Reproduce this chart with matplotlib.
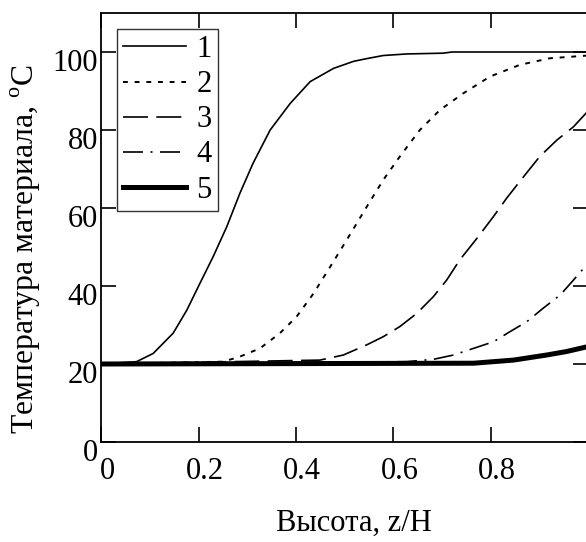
import matplotlib
matplotlib.use("Agg")
import matplotlib.pyplot as plt
import matplotlib.transforms as mtransforms

plt.rcParams['font.family'] = ['Liberation Serif', 'DejaVu Serif']
plt.rcParams['mathtext.fontset'] = 'custom'
plt.rcParams['mathtext.rm'] = 'Liberation Serif'

# Curve 1
x1 = [0.0, 0.073, 0.107, 0.148, 0.176, 0.203, 0.230, 0.258, 0.285, 0.312, 0.347, 0.388, 0.429,
      0.477, 0.518, 0.545, 0.579, 0.627, 0.702, 0.72, 1.0]
y1 = [20, 20.6, 22.7, 27.9, 33.8, 40.7, 47.5, 55.2, 63.8, 71.5, 80.0, 86.8, 92.4,
      95.8, 97.6, 98.3, 99.1, 99.5, 99.7, 100, 100]
# Curve 2
x2 = [0.0, 0.251, 0.285, 0.326, 0.367, 0.401, 0.436, 0.470, 0.504, 0.545, 0.579, 0.613, 0.654,
      0.695, 0.743, 0.798, 0.859, 0.921, 1.0]
y2 = [20, 20.6, 21.9, 24.0, 27.9, 32.1, 38.1, 44.9, 51.8, 60.3, 67.2, 73.2, 80.0,
      85.1, 89.4, 93.7, 96.7, 98.4, 99.1]
# Curve 3
x3 = [0.0, 0.449, 0.497, 0.545, 0.579, 0.613, 0.648, 0.682, 0.709, 0.736, 0.771, 0.805, 0.832,
      0.859, 0.900, 0.935, 0.969, 1.0]
y3 = [20, 21.0, 22.3, 24.9, 27.0, 29.6, 33.0, 37.3, 41.5, 46.7, 52.2, 57.8, 62.5,
      66.8, 73.2, 77.4, 80.8, 85.0]
# Curve 4
x4 = [0.0, 0.627, 0.682, 0.723, 0.764, 0.805, 0.839, 0.873, 0.907, 0.942, 0.969, 1.0]
y4 = [20, 20.6, 21.2, 22.3, 24.0, 25.7, 28.3, 30.8, 34.3, 37.7, 41.5, 46.0]
# Curve 5
x5 = [0.0, 0.764, 0.846, 0.914, 0.955, 1.0]
y5 = [20, 20.2, 21.0, 22.3, 23.2, 24.5]

labels = ['1', '2', '3', '4', '5']
xticks = [0, 0.2, 0.4, 0.6, 0.8]
xticklabels = ['0', '0.2', '0.4', '0.6', '0.8']
yticks = [0, 20, 40, 60, 80, 100]
yticklabels = ['0', '20', '40', '60', '80', '100']

fig = plt.figure(figsize=(5.86, 5.42), dpi=100)
W, H = 586, 542
left, right, bottom, top = 101, 588.5, 442, 13
ax = fig.add_axes([left / W, 1 - bottom / H, (right - left) / W, (bottom - top) / H])

lw = 1.2
ax.plot(x1, y1, color='black', lw=lw, label=labels[0])
ax.plot(x2, y2, color='black', lw=1.4, linestyle=(0, (2.5, 3.5)), label=labels[1])
ax.plot(x3, y3, color='black', lw=lw, linestyle=(0, (15, 5)), label=labels[2])
ax.plot(x4, y4, color='black', lw=lw, linestyle=(0, (12, 4.5, 1.2, 4.5)), label=labels[3])
ax.plot(x5, y5, color='black', lw=3.6, label=labels[4])

ax.set_xlim(0, 1.0)
ax.set_ylim(0, 110)
ax.set_xticks(xticks)
ax.set_xticklabels(xticklabels)
ax.set_yticks(yticks)
ax.set_yticklabels(yticklabels)

ax.tick_params(direction='in', length=11, width=1.2, top=True, right=True,
               labelsize=22, colors='black')
ax.tick_params(axis='x', pad=11)
ax.tick_params(axis='y', pad=2)
for s in ax.spines.values():
    s.set_linewidth(1.3)

offx = mtransforms.ScaledTranslation(6 / 100, 0, fig.dpi_scale_trans)
for lab in ax.get_xticklabels():
    lab.set_transform(lab.get_transform() + offx)
offy = mtransforms.ScaledTranslation(0, -8 / 100, fig.dpi_scale_trans)
for lab in ax.get_yticklabels():
    lab.set_transform(lab.get_transform() + offy)

fig.text(354 / W, 1 - 523 / H, 'Высота, z/H', ha='center', va='center', fontsize=22)
fig.text(26 / W, 1 - 249 / H, r'Температура материала, $^{\mathrm{o}}$C', ha='center', va='center',
         rotation=90, fontsize=22.8)

leg = ax.legend(loc='upper left', bbox_to_anchor=(117 / W, 1 - 29 / H), bbox_transform=fig.transFigure,
                borderaxespad=0, fontsize=22, frameon=True, fancybox=False, edgecolor='black',
                handlelength=2.05, handletextpad=0.35, labelspacing=0.2, borderpad=0.2)
leg.get_frame().set_linewidth(1.0)

fig.savefig('out.png', dpi=100)
